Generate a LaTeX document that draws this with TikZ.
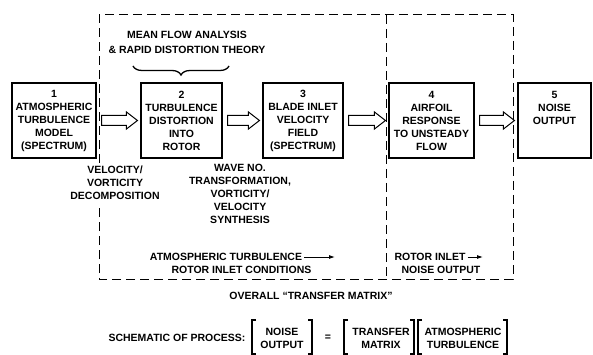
\documentclass[tikz,border=0pt]{standalone}
\usepackage{fontspec}
\setmainfont{Liberation Sans}
\usetikzlibrary{decorations.pathreplacing,calc,arrows.meta}

% hollow block arrow between two stage boxes
\newcommand\flowarrow[2]{%
  \draw[hollow] let \p1=(#1.east), \p2=(#2.west) in
    (\x1+5pt,\y1+5pt) -- (\x2-14pt,\y1+5pt) -- (\x2-14pt,\y1+8.5pt) -- (\x2-3pt,\y1)
    -- (\x2-14pt,\y1-8.5pt) -- (\x2-14pt,\y1-5pt) -- (\x1+5pt,\y1-5pt) -- cycle;}
% matrix brackets
\newcommand\openbr[1]{\draw[brk] (#1+4,320) -- (#1,320) -- (#1,354) -- (#1+4,354);}
\newcommand\closebr[1]{\draw[brk] (#1-4,320) -- (#1,320) -- (#1,354) -- (#1-4,354);}

\begin{document}
\begin{tikzpicture}[x=1pt,y=-1pt,
  every node/.style={font=\bfseries\fontsize{10.5}{13}\selectfont, align=center, inner sep=0pt},
  stage/.style={draw, line width=1.1pt, minimum height=75pt},
  hollow/.style={line width=1pt, line join=miter},
  frame/.style={line width=1pt, dash pattern=on 9pt off 5pt},
  smallarrow/.style={line width=0.9pt, -{Latex[length=6pt,width=4pt]}},
  brk/.style={line width=1.1pt},
  bracestyle/.style={line width=1.3pt, decorate, decoration={brace, mirror, amplitude=9pt}}]

\useasboundingbox (0,0) rectangle (593,355);

% process stages
\node[stage, minimum width=84pt] (s1) at (54,120.5) {1\\ATMOSPHERIC\\TURBULENCE\\MODEL\\(SPECTRUM)};
\node[stage, minimum width=81pt] (s2) at (181.5,120.5) {2\\TURBULENCE\\DISTORTION\\INTO\\ROTOR};
\node[stage, minimum width=80pt] (s3) at (303,120.5) {3\\BLADE INLET\\VELOCITY\\FIELD\\(SPECTRUM)};
\node[stage, minimum width=85pt] (s4) at (431.5,120.5) {4\\AIRFOIL\\RESPONSE\\TO UNSTEADY\\FLOW};
\node[stage, minimum width=73pt] (s5) at (554.5,120.5) {5\\NOISE\\OUTPUT\\\mbox{}\\\mbox{}};

\flowarrow{s1}{s2}
\flowarrow{s2}{s3}
\flowarrow{s3}{s4}
\flowarrow{s4}{s5}

% dashed frames of the transfer matrix
\coordinate (fTL) at (99,15);
\coordinate (fTR) at (513,15);
\coordinate (fBR) at (513,279);
\coordinate (fBL) at (99,279);
\coordinate (fGapTop) at (99,163);
\coordinate (fGapBot) at (99,204);
\coordinate (fDivT) at (386,15);
\coordinate (fDivB) at (386,279);
\draw[frame] (fGapTop) -- (fTL) -- (fTR) -- (fBR) -- (fBL) -- (fGapBot);
\draw[frame] (fDivT) -- (fDivB);

% analysis label with brace
\node (mf) at (187,42.5) {MEAN FLOW ANALYSIS\\[2pt]\& RAPID DISTORTION THEORY};
\coordinate (brL) at (133,66);
\coordinate (brR) at (229,66);
\draw[bracestyle] (brL) -- (brR);

% annotations
\node (vv) at (115,182.5) {VELOCITY/\\VORTICITY\\DECOMPOSITION};
\node (wv) at (240,194) {WAVE NO.\\TRANSFORMATION,\\VORTICITY/\\VELOCITY\\SYNTHESIS};

\node (at1) at (226,257) {ATMOSPHERIC TURBULENCE};
\node (at2) at (241.5,269.5) {ROTOR INLET CONDITIONS};
\coordinate (at1e) at (335,257);
\draw[smallarrow] ([xshift=2pt]at1.east) -- (at1e);

\node (ri1) at (430,257) {ROTOR INLET};
\node (ri2) at (441,270) {NOISE OUTPUT};
\coordinate (ri1e) at (483,257);
\draw[smallarrow] ([xshift=2pt]ri1.east) -- (ri1e);

\node (ov) at (311,296) {OVERALL “TRANSFER MATRIX”};

% schematic equation
\node (sch) at (177,338) {SCHEMATIC OF PROCESS:};
\node (mno) at (282,338.5) {NOISE\\OUTPUT};
\node (meq) at (328,338) {=};
\node (mtm) at (381,338.5) {TRANSFER\\MATRIX};
\node (mat) at (463,338.5) {ATMOSPHERIC\\TURBULENCE};
\openbr{252}
\closebr{312}
\openbr{344}
\closebr{414}
\openbr{418}
\closebr{507}

\end{tikzpicture}
\end{document}
